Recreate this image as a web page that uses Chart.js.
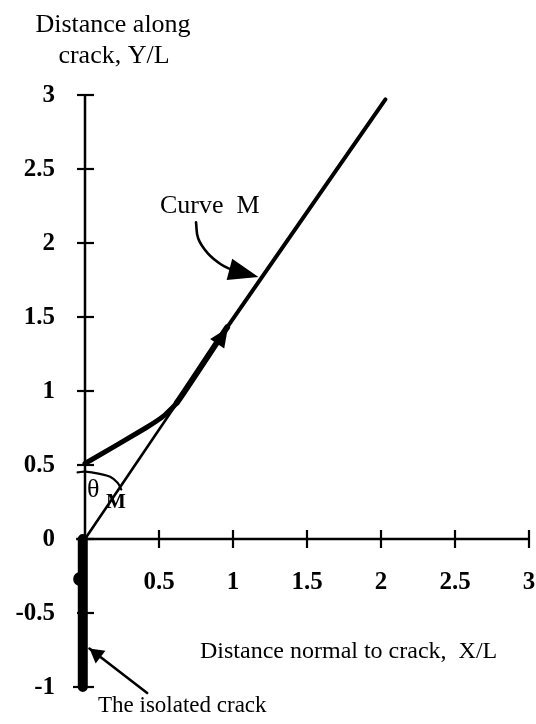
<!DOCTYPE html>
<html><head><meta charset="utf-8">
<script src="https://cdn.jsdelivr.net/npm/chart.js@4.4.0/dist/chart.umd.min.js"></script>
<style>html,body{margin:0;padding:0;background:#fff;overflow:hidden}#wrap{position:relative;width:536px;height:724px}</style>
</head><body><div id="wrap"><canvas id="c" width="536" height="724"></canvas></div>
<script>
// ---- data ----
const xTickValues = [0.5, 1, 1.5, 2, 2.5, 3];
const yTickValues = [-1, -0.5, 0, 0.5, 1, 1.5, 2, 2.5, 3];
const curveMX = [0, 0.41, 0.53, 0.62, 0.96, 2.03];
const curveMY = [0.51, 0.75, 0.83, 0.92, 1.43, 2.97];
const rayX = [0, 0.965];
const rayY = [0, 1.426];
const arcX = [-0.05, 0, 0.10, 0.17, 0.22, 0.245];
const arcY = [0.45, 0.455, 0.44, 0.42, 0.38, 0.335];
const crackX = [-0.015, -0.015];
const crackY = [0, -1];
const crackDotX = [-0.033];
const crackDotY = [-0.27];
const crackPointerX = [0.42, 0.03];
const crackPointerY = [-1.04, -0.74];
const labelPointerX = [0.75, 0.765, 0.83, 0.92, 1.0];
const labelPointerY = [2.14, 2.03, 1.93, 1.855, 1.815];
const labelPointerTip = [1.172, 1.77];
const yTitleLines = ['Distance along', 'crack, Y/L'];
const xTitle = 'Distance normal to crack,  X/L';
const curveLabel = 'Curve  M';
const crackLabel = 'The isolated crack';
const thetaLabel = 'θ';
const thetaSub = 'M';

const pts = (xs, ys) => xs.map((x, i) => ({x, y: ys[i]}));
const lineDs = (xs, ys, w) => ({data: pts(xs, ys), showLine: true, borderColor: '#000', backgroundColor: '#000',
  borderWidth: w, pointRadius: 0, clip: false, tension: 0, borderCapStyle: 'round', borderJoinStyle: 'round'});

function arrowHead(ctx, tx, ty, fx, fy, len, hw) {
  const dx = tx - fx, dy = ty - fy, d = Math.hypot(dx, dy);
  const ux = dx / d, uy = dy / d;
  const bx = tx - ux * len, by = ty - uy * len;
  ctx.beginPath();
  ctx.moveTo(tx, ty);
  ctx.lineTo(bx - uy * hw, by + ux * hw);
  ctx.lineTo(bx + uy * hw, by - ux * hw);
  ctx.closePath();
  ctx.fill();
}

const decor = {
  id: 'decor',
  beforeDatasetsDraw(chart) {
    const ctx = chart.ctx, xs = chart.scales.x, ys = chart.scales.y;
    const X = v => xs.getPixelForValue(v), Y = v => ys.getPixelForValue(v);
    ctx.save();
    ctx.strokeStyle = '#000'; ctx.fillStyle = '#000';
    // axes
    ctx.lineWidth = 2.5;
    ctx.beginPath(); ctx.moveTo(X(0), Y(-1)); ctx.lineTo(X(0), Y(3)); ctx.stroke();
    ctx.beginPath(); ctx.moveTo(X(-0.06), Y(0)); ctx.lineTo(X(3), Y(0)); ctx.stroke();
    // ticks
    ctx.lineWidth = 2.2;
    yTickValues.forEach(v => { ctx.beginPath(); ctx.moveTo(X(0) - (v === -1 ? 12 : 8), Y(v)); ctx.lineTo(X(0) + 9, Y(v)); ctx.stroke(); });
    xTickValues.forEach(v => { ctx.beginPath(); ctx.moveTo(X(v), Y(0) - 9); ctx.lineTo(X(v), Y(0) + 9); ctx.stroke(); });
    // tick labels
    ctx.font = 'bold 25px "Liberation Serif"';
    ctx.textAlign = 'right'; ctx.textBaseline = 'middle';
    yTickValues.forEach(v => ctx.fillText(String(v), X(0) - 30, Y(v) + 1));
    ctx.textAlign = 'center';
    xTickValues.forEach(v => ctx.fillText(String(v), X(v), Y(0) + 44));
    ctx.restore();
  },
  afterDatasetsDraw(chart) {
    const ctx = chart.ctx, xs = chart.scales.x, ys = chart.scales.y;
    const X = v => xs.getPixelForValue(v), Y = v => ys.getPixelForValue(v);
    ctx.save();
    ctx.fillStyle = '#000';
    // arrowheads
    arrowHead(ctx, X(rayX[1]), Y(rayY[1]), X(rayX[0]), Y(rayY[0]), 19, 8.5);
    arrowHead(ctx, X(labelPointerTip[0]), Y(labelPointerTip[1]), X(labelPointerX[4]), Y(labelPointerY[4]), 30, 11);
    arrowHead(ctx, X(crackPointerX[1]), Y(crackPointerY[1]), X(crackPointerX[0]), Y(crackPointerY[0]), 14, 8);
    // texts
    ctx.textBaseline = 'alphabetic';
    ctx.font = '26px "Liberation Serif"';
    ctx.textAlign = 'center';
    ctx.fillText(yTitleLines[0], 113, 32);
    ctx.fillText(yTitleLines[1], 114, 63);
    ctx.textAlign = 'left';
    ctx.fillText(curveLabel, 160, 213);
    ctx.fillText(thetaLabel, 87, 497);
    ctx.font = '24px "Liberation Serif"';
    ctx.fillText(xTitle, 200, 658);
    ctx.font = '23px "Liberation Serif"';
    ctx.fillText(crackLabel, 98, 712);
    ctx.font = 'bold 21px "Liberation Serif"';
    ctx.fillText(thetaSub, 106, 508);
    ctx.restore();
  }
};

new Chart(document.getElementById('c'), {
  type: 'scatter',
  data: {
    datasets: [
      lineDs(rayX, rayY, 2.6),
      Object.assign(lineDs(curveMX, curveMY, 4), {tension: 0.15,
        segment: {borderWidth: c => c.p0DataIndex < 3 ? 5 : (c.p0DataIndex === 3 ? 6 : 4)}}),
      Object.assign(lineDs(arcX, arcY, 2.2), {tension: 0.4}),
      Object.assign(lineDs(crackX, crackY, 10), {borderCapStyle: 'butt'}),
      {data: pts(crackDotX, crackDotY), showLine: false, pointRadius: 7, pointBackgroundColor: '#000', pointBorderWidth: 0, clip: false},
      lineDs(crackPointerX, crackPointerY, 2.6),
      Object.assign(lineDs(labelPointerX, labelPointerY, 2.6), {tension: 0.4})
    ]
  },
  options: {
    responsive: false,
    devicePixelRatio: 1,
    animation: false,
    layout: {padding: {left: 85, right: 3, top: 95, bottom: 37}},
    scales: {
      x: {type: 'linear', min: 0, max: 3, display: false},
      y: {type: 'linear', min: -1, max: 3, display: false}
    },
    plugins: {legend: {display: false}, tooltip: {enabled: false}}
  },
  plugins: [decor]
});
</script>
</body></html>
